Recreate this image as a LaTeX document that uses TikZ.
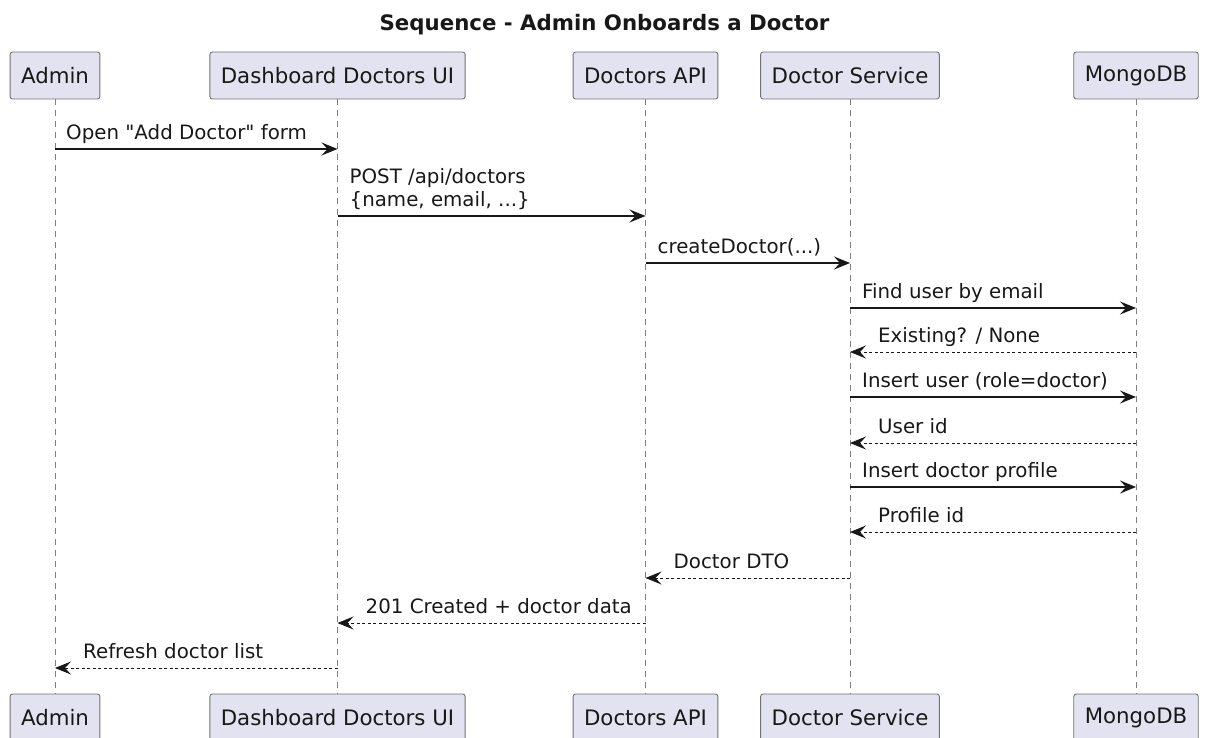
\documentclass[tikz,border=0pt]{standalone}
\usepackage{fontspec}
\setmainfont{DejaVu Sans}[Ligatures=TeXOff]
\usetikzlibrary{arrows.meta}
\definecolor{partfill}{HTML}{E2E2F0}
\definecolor{ink}{HTML}{181818}
\tikzset{
  part/.style={draw=black!55, line width=0.9pt, fill=partfill, rounded corners=2.5pt, minimum height=47pt, inner xsep=11pt, font=\fontsize{21.3}{25}\selectfont, text=ink},
  life/.style={draw=black!50, line width=0.9pt, dash pattern=on 6pt off 5pt},
  call/.style={-{Stealth[length=16pt,width=13pt,inset=6pt]}, line width=1.4pt, draw=ink},
  ret/.style={call, line width=1pt, dash pattern=on 3pt off 2.5pt},
  msg/.style={inner sep=0pt, anchor=south west, align=left, font=\fontsize{19.8}{23}\selectfont, text depth=4.5pt, text=ink},
}
\begin{document}
\begin{tikzpicture}[x=1pt, y=-1pt]
\useasboundingbox (0,0) rectangle (1210,738);

\node[font=\bfseries\fontsize{21.3}{25}\selectfont, text=ink] (title) at (604.5,25) {Sequence - Admin Onboards a Doctor};

\node[part] (admin) at (55,75.5) {Admin};
\node[part] (ui) at (337.5,75.5) {Dashboard Doctors UI};
\node[part] (api) at (645.5,75.5) {Doctors API};
\node[part] (svc) at (850,75.5) {Doctor Service};
\node[part] (db) at (1136,75.5) {MongoDB};

\node[part] (admin2) at (55,717.5) {Admin};
\node[part] (ui2) at (337.5,717.5) {Dashboard Doctors UI};
\node[part] (api2) at (645.5,717.5) {Doctors API};
\node[part] (svc2) at (850,717.5) {Doctor Service};
\node[part] (db2) at (1136,717.5) {MongoDB};

\draw[life] (admin) -- (admin2);
\draw[life] (ui) -- (ui2);
\draw[life] (api) -- (api2);
\draw[life] (svc) -- (svc2);
\draw[life] (db) -- (db2);

\coordinate (m1) at (0,149);
\coordinate (m2) at (0,216);
\coordinate (m3) at (0,263);
\coordinate (m4) at (0,308);
\coordinate (m5) at (0,352);
\coordinate (m6) at (0,397);
\coordinate (m7) at (0,443);
\coordinate (m8) at (0,487);
\coordinate (m9) at (0,532);
\coordinate (m10) at (0,578);
\coordinate (m11) at (0,623);
\coordinate (m12) at (0,668);

\draw[call] (admin |- m1) -- (ui |- m1);
\path (admin |- m1) ++(11,-4.5) node[msg] (l1) {Open "Add Doctor" form};

\draw[call] (ui |- m2) -- (api |- m2);
\path (ui |- m2) ++(12,-4.5) node[msg] (l2) {POST /api/doctors\\\{name, email, ...\}};

\draw[call] (api |- m3) -- (svc |- m3);
\path (api |- m3) ++(12,-4.5) node[msg] (l3) {createDoctor(...)};

\draw[call] (svc |- m4) -- (db |- m4);
\path (svc |- m4) ++(12,-4.5) node[msg] (l4) {Find user by email};

\draw[ret] (db |- m5) -- (svc |- m5);
\path (svc |- m5) ++(28,-4.5) node[msg] (l5) {Existing? / None};

\draw[call] (svc |- m6) -- (db |- m6);
\path (svc |- m6) ++(12,-4.5) node[msg] (l6) {Insert user (role=doctor)};

\draw[ret] (db |- m7) -- (svc |- m7);
\path (svc |- m7) ++(28,-4.5) node[msg] (l7) {User id};

\draw[call] (svc |- m8) -- (db |- m8);
\path (svc |- m8) ++(12,-4.5) node[msg] (l8) {Insert doctor profile};

\draw[ret] (db |- m9) -- (svc |- m9);
\path (svc |- m9) ++(28,-4.5) node[msg] (l9) {Profile id};

\draw[ret] (svc |- m10) -- (api |- m10);
\path (api |- m10) ++(28,-4.5) node[msg] (l10) {Doctor DTO};

\draw[ret] (api |- m11) -- (ui |- m11);
\path (ui |- m11) ++(28,-4.5) node[msg] (l11) {201 Created + doctor data};

\draw[ret] (ui |- m12) -- (admin |- m12);
\path (admin |- m12) ++(28,-4.5) node[msg] (l12) {Refresh doctor list};

\end{tikzpicture}
\end{document}
